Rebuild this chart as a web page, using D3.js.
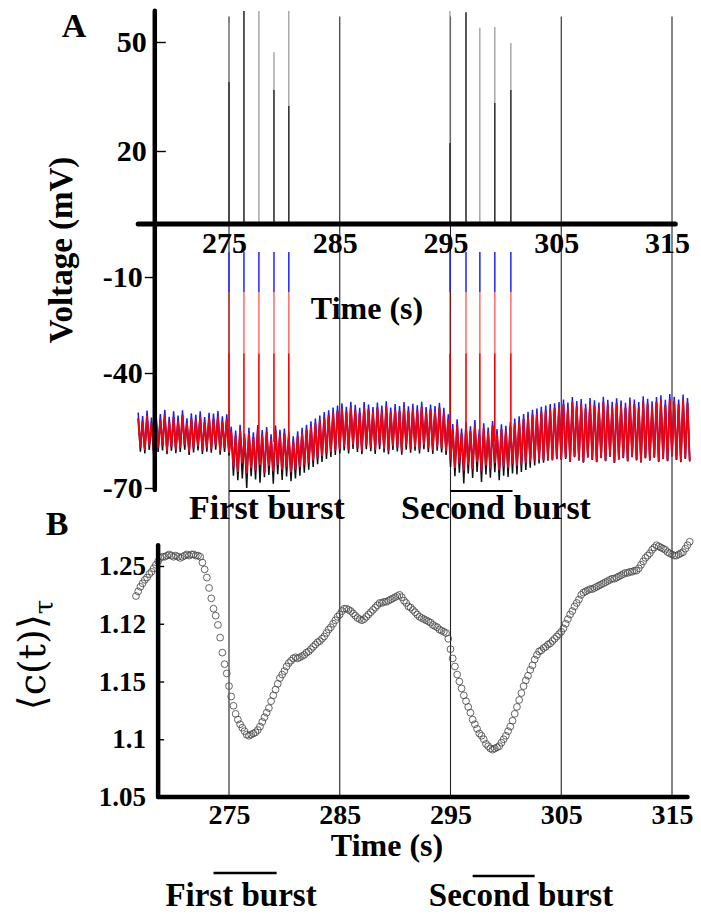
<!DOCTYPE html>
<html><head><meta charset="utf-8">
<script src="https://cdn.jsdelivr.net/npm/d3@7/dist/d3.min.js"></script>
<style>
html,body{margin:0;padding:0;background:#fff;}
svg{display:block;}
text{font-family:"Liberation Serif","Times New Roman",serif;font-weight:bold;fill:#000;}
</style></head><body>
<svg id="chart" width="701" height="915"></svg>
<script>
// ---------- tick values / labels ----------
const timeTicks = [275, 285, 295, 305, 315];
const timeTickLabels = ["275", "285", "295", "305", "315"];
const voltTicksUpper = [50, 20];
const voltTicksLower = [-10, -40, -70];
const voltTickLabels = {"50": "50", "20": "20", "-10": "-10", "-40": "-40", "-70": "-70"};
const corrTicks = [1.05, 1.1, 1.15, 1.2, 1.25];
const corrTickLabels = ["1.05", "1.1", "1.15", "1.12", "1.25"];

// ---------- Panel A: membrane voltage trace (one oscillation cycle every 0.4 s) ----------
const traceStart = 266.8, traceStep = 0.4;
const redHi = [
  -51.8,-52.6,-51.2,-53.0,-51.6,-52.2,-50.9,-52.8,-51.5,-52.4,-51.0,-53.1,-51.9,-52.3,-51.4,-52.9,-51.7,-52.0,-51.3,-52.7,-52.1,
  -55.2,-56.4,-54.8,-57.0,-55.6,-56.8,-54.9,-56.2,-55.4,-57.3,-55.0,-56.1,-55.8,-56.6,
  -57.8,-56.5,-55.6,-54.8,-53.9,-53.2,-52.4,-51.5,-51.0,-50.3,-49.8,
  -49.2,-50.1,-48.8,-49.6,-50.4,-48.9,-49.5,-50.2,-49.0,-49.8,-48.7,-50.3,-49.4,-49.9,-48.9,-50.0,-49.3,-49.7,-48.8,-50.2,-49.5,-49.9,-49.1,-50.4,
  -52.0,-54.6,-53.4,-55.8,-54.1,-55.2,-53.6,-56.0,-54.4,-55.5,-53.8,-55.9,-54.7,-55.1,-54.0,
  -53.2,-52.6,-52.0,-51.4,-50.9,-50.6,-50.1,-49.8,-49.4,-49.2,-48.9,
  -48.2,-49.0,-47.6,-48.6,-48.1,-49.3,-47.8,-48.4,-49.0,-47.5,-48.3,-48.8,-47.9,-48.5,-49.1,-47.7,-48.2,-48.9,-47.4,-48.0,-48.7,-47.6,-47.1,-48.3,-46.8,-47.5,-48.2,-46.9,-47.8
];
const redLo = [
  -59.4,-60.1,-58.9,-60.4,-59.6,-59.0,-60.3,-59.2,-60.0,-59.5,-58.8,-60.5,-59.7,-59.1,-60.2,-59.4,-59.9,-58.9,-60.4,-59.6,-60.8,
  -64.5,-65.8,-63.6,-66.2,-64.8,-65.4,-63.9,-66.0,-64.2,-65.6,-64.0,-65.2,-64.6,-65.9,
  -65.2,-64.6,-64.0,-63.4,-62.8,-62.2,-61.7,-61.0,-60.6,-60.2,-59.9,
  -59.2,-60.0,-58.7,-59.6,-60.3,-58.9,-59.4,-60.1,-58.8,-59.7,-60.2,-59.0,-59.5,-60.4,-58.9,-59.8,-59.3,-60.0,-58.8,-59.6,-60.1,-59.2,-59.7,-60.3,
  -62.6,-64.8,-63.5,-65.4,-63.9,-65.0,-63.2,-65.6,-64.1,-64.9,-63.4,-65.3,-64.4,-64.7,-63.8,
  -64.2,-63.8,-63.5,-63.1,-62.9,-62.6,-62.8,-62.4,-62.6,-62.3,-62.5,
  -62.1,-63.0,-61.8,-62.7,-63.2,-61.9,-62.5,-63.1,-62.0,-62.8,-61.7,-63.3,-62.4,-62.0,-62.9,-61.8,-62.6,-63.2,-62.1,-62.7,-61.9,-63.0,-62.3,-62.8,-61.6,-62.5,-63.1,-62.2,-62.9
];
const blueHi = [
  -50.3,-51.2,-49.8,-51.6,-50.2,-50.7,-49.6,-51.4,-50.0,-51.1,-49.7,-51.8,-50.5,-50.9,-50.0,-51.5,-50.4,-50.6,-49.9,-51.3,-50.8,
  -54.0,-55.0,-53.5,-55.8,-54.3,-55.5,-53.6,-54.9,-54.1,-56.0,-53.7,-54.8,-54.5,-55.3,
  -56.5,-55.2,-54.3,-53.5,-52.6,-51.9,-51.1,-50.2,-49.7,-49.0,-48.5,
  -47.9,-48.8,-47.5,-48.3,-49.1,-47.6,-48.2,-48.9,-47.7,-48.5,-47.4,-49.0,-48.1,-48.6,-47.6,-48.7,-48.0,-48.4,-47.5,-48.9,-48.2,-48.6,-47.8,-49.1,
  -50.8,-53.3,-52.1,-54.5,-52.8,-53.9,-52.3,-54.7,-53.1,-54.2,-52.5,-54.6,-53.4,-53.8,-52.7,
  -51.9,-51.3,-50.7,-50.1,-49.6,-49.3,-48.8,-48.5,-48.1,-47.9,-47.6,
  -46.9,-47.7,-46.3,-47.3,-46.8,-48.0,-46.5,-47.1,-47.7,-46.2,-47.0,-47.5,-46.6,-47.2,-47.8,-46.4,-46.9,-47.6,-46.1,-46.7,-47.4,-46.3,-45.8,-47.0,-45.5,-46.2,-46.9,-45.6,-46.5
];
const blackLo = [
  -60.5,-61.0,-60.1,-61.3,-60.6,-60.2,-61.2,-60.3,-60.9,-60.6,-60.0,-61.4,-60.7,-60.2,-61.1,-60.5,-60.8,-60.0,-61.3,-60.6,-61.6,
  -66.8,-68.0,-67.5,-70.0,-66.9,-67.8,-68.6,-67.2,-66.6,-68.9,-66.4,-67.9,-67.0,-68.2,
  -67.5,-66.8,-66.0,-65.2,-64.5,-63.8,-63.2,-62.4,-61.9,-61.4,-61.0,
  -60.2,-61.0,-59.8,-60.6,-61.2,-59.9,-60.4,-61.1,-59.9,-60.7,-61.2,-60.1,-60.5,-61.3,-60.0,-60.8,-60.3,-61.0,-59.9,-60.6,-61.1,-60.3,-60.7,-61.4,
  -64.5,-66.9,-66.0,-68.8,-66.2,-67.4,-65.8,-68.4,-66.5,-67.3,-65.9,-68.0,-66.8,-67.1,-66.2,
  -66.5,-65.8,-65.3,-64.7,-64.1,-63.6,-63.4,-62.9,-62.8,-62.5,-62.6,
  -62.4,-63.2,-62.0,-62.9,-63.4,-62.1,-62.7,-63.3,-62.2,-63.0,-61.9,-63.5,-62.6,-62.2,-63.1,-62.0,-62.8,-63.4,-62.3,-62.9,-62.1,-63.2,-62.5,-63.0,-61.8,-62.7,-63.3,-62.4,-63.1
];

// action potentials
const spikeTimes   = [275.0, 276.35, 277.7, 279.06, 280.4, 294.95, 296.4, 297.65, 299.0, 300.45];
const spikeTopAll  = [55.2, 58.5, 58.5, 47.2, 58.5, 58.5, 58.2, 53.9, 54.1, 49.7];
const spikeTopDark = [39.0, 58.5, 0, 36.8, 32.4, 22.2, 58.2, 0, 33.2, 36.8];
const spikeColorTop = -5.3, spikeBlueEnd = -14.7, spikePaleEnd = -33.8, spikeBase = -58;

const burstsA = [[275.0, 280.5], [295.0, 300.6]];
const burstsB = [[273.6, 279.3], [297.0, 302.6]];
const burstNames = ["First burst", "Second burst"];

// ---------- Panel B: <c(t)>_tau, one sample every 0.2 s ----------
const corrStart = 266.6, corrStep = 0.2;
const corrValues = [
  1.224,1.228,1.232,1.235,1.238,1.240,1.243,1.245,1.248,1.251,
  1.254,1.257,1.258,1.258,1.259,1.260,1.259,1.258,1.259,1.258,
  1.257,1.258,1.259,1.260,1.259,1.260,1.260,1.259,1.259,1.258,
  1.253,1.247,1.240,1.231,1.222,1.213,1.207,1.199,1.188,1.175,
  1.165,1.157,1.146,1.137,1.129,1.122,1.117,1.113,1.110,1.107,
  1.104,1.103,1.104,1.105,1.106,1.108,1.111,1.115,1.119,1.123,
  1.127,1.133,1.138,1.143,1.148,1.153,1.156,1.159,1.163,1.166,
  1.168,1.170,1.171,1.170,1.171,1.172,1.173,1.175,1.176,1.178,
  1.180,1.182,1.184,1.185,1.187,1.189,1.192,1.195,1.197,1.200,
  1.203,1.206,1.208,1.211,1.213,1.213,1.212,1.211,1.209,1.207,
  1.205,1.204,1.203,1.204,1.206,1.208,1.210,1.212,1.214,1.216,
  1.218,1.218,1.219,1.219,1.220,1.221,1.222,1.223,1.224,1.225,
  1.223,1.220,1.218,1.215,1.214,1.212,1.210,1.208,1.206,1.205,
  1.204,1.203,1.202,1.201,1.199,1.198,1.197,1.195,1.194,1.193,
  1.192,1.187,1.178,1.170,1.163,1.156,1.150,1.144,1.138,1.133,
  1.128,1.123,1.117,1.113,1.109,1.105,1.103,1.100,1.096,1.094,
  1.092,1.091,1.092,1.093,1.094,1.097,1.100,1.103,1.107,1.111,
  1.116,1.122,1.128,1.134,1.140,1.146,1.151,1.155,1.160,1.164,
  1.169,1.173,1.176,1.177,1.179,1.180,1.182,1.183,1.185,1.187,
  1.189,1.191,1.193,1.196,1.200,1.204,1.208,1.211,1.215,1.218,
  1.221,1.225,1.227,1.228,1.229,1.230,1.230,1.231,1.232,1.233,
  1.234,1.235,1.236,1.237,1.238,1.239,1.239,1.240,1.241,1.242,
  1.243,1.244,1.244,1.245,1.245,1.246,1.246,1.248,1.251,1.254,
  1.257,1.259,1.261,1.264,1.266,1.268,1.267,1.266,1.265,1.264,
  1.262,1.261,1.260,1.259,1.259,1.260,1.261,1.262,1.265,1.268,
  1.271
];

// ---------- scales ----------
const x  = d3.scaleLinear().domain([275, 315]).range([229, 672]);
const yA = d3.scaleLinear().domain([-70, -40, -10, 0, 20, 50]).range([488, 373, 277, 224, 151, 42]);
const yB = d3.scaleLinear().domain([1.05, 1.25]).range([797, 566]);

const svg = d3.select("#chart");

// ---------- vertical reference lines (span both panels) ----------
svg.append("g").selectAll("line").data(timeTicks).join("line")
  .attr("x1", d => x(d)).attr("x2", d => x(d))
  .attr("y1", yA(57)).attr("y2", yB(1.05))
  .attr("stroke", "#222").attr("stroke-width", 1.1);

// ---------- Panel A trace ----------
const trace = redHi.map((h, i) => ({t: traceStart + i * traceStep, hi: h, lo: redLo[i], bhi: blueHi[i], klo: blackLo[i]}));
const lineA = d3.line().x(p => x(p[0])).y(p => yA(p[1]));
const half = traceStep / 2;
const gT = svg.append("g");
gT.append("path").attr("d", lineA(trace.flatMap(d => [[d.t, d.hi], [d.t + half, d.klo]])))
  .attr("fill", "none").attr("stroke", "#111").attr("stroke-width", 1.5);
gT.append("path").attr("d", lineA(trace.flatMap(d => [[d.t, d.bhi], [d.t + half, d.lo]])))
  .attr("fill", "none").attr("stroke", "#1a1aff").attr("stroke-width", 1.5);
gT.append("path").attr("d", lineA(trace.flatMap(d => [[d.t, d.hi], [d.t + half, d.lo]])))
  .attr("fill", "none").attr("stroke", "#ff0000").attr("stroke-width", 1.9).attr("stroke-opacity", 0.92);

// spikes in the coloured (lower) view
const gS = svg.append("g").attr("stroke-width", 1.6);
gS.selectAll(".sb").data(spikeTimes).join("line").attr("class", "sb")
  .attr("x1", d => x(d)).attr("x2", d => x(d))
  .attr("y1", yA(spikeColorTop)).attr("y2", yA(spikeBlueEnd)).attr("stroke", "#3030ff");
gS.selectAll(".sp").data(spikeTimes).join("line").attr("class", "sp")
  .attr("x1", d => x(d)).attr("x2", d => x(d))
  .attr("y1", yA(spikeBlueEnd)).attr("y2", yA(spikePaleEnd)).attr("stroke", "#ff0000").attr("stroke-opacity", 0.55);
gS.selectAll(".sr").data(spikeTimes).join("line").attr("class", "sr")
  .attr("x1", d => x(d)).attr("x2", d => x(d))
  .attr("y1", yA(spikePaleEnd)).attr("y2", yA(spikeBase)).attr("stroke", "#ff0000");

// spikes in the upper (black) view
const gU = svg.append("g").attr("stroke-width", 1.3);
gU.selectAll(".ua").data(spikeTimes).join("line").attr("class", "ua")
  .attr("x1", d => x(d)).attr("x2", d => x(d))
  .attr("y1", yA(0)).attr("y2", (d, i) => yA(spikeTopAll[i])).attr("stroke", "#9a9a9a");
gU.selectAll(".ud").data(spikeTimes.filter((d, i) => spikeTopDark[i] > 0)).join("line").attr("class", "ud")
  .attr("x1", d => x(d)).attr("x2", d => x(d))
  .attr("y1", yA(0)).attr("y2", d => yA(spikeTopDark[spikeTimes.indexOf(d)])).attr("stroke", "#222");

// ---------- Panel A axes ----------
const axA = svg.append("g");
axA.append("line").attr("x1", x(268.3)).attr("x2", x(268.3)).attr("y1", yA(58.6)).attr("y2", yA(-70.5))
  .attr("stroke", "#000").attr("stroke-width", 4.5).attr("stroke-linecap", "round");
axA.append("line").attr("x1", x(266.8)).attr("x2", x(315.3)).attr("y1", yA(0)).attr("y2", yA(0))
  .attr("stroke", "#000").attr("stroke-width", 5).attr("stroke-linecap", "round");

function styleAxis(g, size) {
  g.attr("font-family", null).attr("font-size", null);
  g.select(".domain").remove();
  g.selectAll(".tick line").attr("stroke", "#000").attr("stroke-width", 1.4);
  g.selectAll(".tick text").style("font-size", size + "px");
}
const vFmt = d => voltTickLabels[String(d)];
svg.append("g").attr("transform", `translate(${x(268.3)},0)`)
  .call(d3.axisLeft(yA).tickValues(voltTicksUpper).tickFormat(vFmt).tickSizeInner(-11).tickSizeOuter(0).tickPadding(8))
  .call(g => styleAxis(g, 30));
svg.append("g").attr("transform", `translate(${x(268.3)},0)`)
  .call(d3.axisLeft(yA).tickValues(voltTicksLower).tickFormat(vFmt).tickSizeInner(10).tickSizeOuter(0).tickPadding(2))
  .call(g => styleAxis(g, 30));
svg.append("g").attr("transform", `translate(0,${yA(0)})`)
  .call(d3.axisBottom(x).tickValues(timeTicks).tickFormat((d, i) => timeTickLabels[i]).tickSize(0).tickPadding(8))
  .call(g => styleAxis(g, 30))
  .call(g => g.selectAll(".tick text").attr("dx", -5));

// ---------- Panel B: circles ----------
const corr = corrValues.map((v, i) => ({t: corrStart + i * corrStep, v}));
svg.append("g").selectAll("circle").data(corr).join("circle")
  .attr("cx", d => x(d.t)).attr("cy", d => yB(d.v)).attr("r", 3.4)
  .attr("fill", "none").attr("stroke", "#4a4a4a").attr("stroke-width", 1).attr("stroke-opacity", 0.85);

// ---------- Panel B axes ----------
const axB = svg.append("g");
axB.append("line").attr("x1", x(268.6)).attr("x2", x(268.6)).attr("y1", yB(1.268)).attr("y2", yB(1.05))
  .attr("stroke", "#000").attr("stroke-width", 4.5).attr("stroke-linecap", "round");
axB.append("line").attr("x1", x(268.6)).attr("x2", x(316.4)).attr("y1", yB(1.05)).attr("y2", yB(1.05))
  .attr("stroke", "#000").attr("stroke-width", 4.5).attr("stroke-linecap", "round");
svg.append("g").attr("transform", `translate(${x(268.6)},0)`)
  .call(d3.axisLeft(yB).tickValues(corrTicks).tickFormat((d, i) => corrTickLabels[i]).tickSizeInner(-6).tickSizeOuter(0).tickPadding(12))
  .call(g => styleAxis(g, 27));
svg.append("g").attr("transform", `translate(0,${yB(1.05)})`)
  .call(d3.axisBottom(x).tickValues(timeTicks).tickFormat((d, i) => timeTickLabels[i]).tickSize(0).tickPadding(7))
  .call(g => styleAxis(g, 28));

// ---------- burst bars ----------
svg.append("g").selectAll("line").data(burstsA).join("line")
  .attr("x1", d => x(d[0])).attr("x2", d => x(d[1])).attr("y1", 491).attr("y2", 491)
  .attr("stroke", "#000").attr("stroke-width", 2.2);
svg.append("g").selectAll("line").data(burstsB).join("line")
  .attr("x1", d => x(d[0])).attr("x2", d => x(d[1])).attr("y1", (d, i) => 873 + 3 * i).attr("y2", (d, i) => 873 + 3 * i)
  .attr("stroke", "#000").attr("stroke-width", 2.5);

// ---------- text ----------
function label(txt, tx, ty, size, opts = {}) {
  const t = svg.append("text").attr("x", tx).attr("y", ty).attr("text-anchor", opts.anchor || "middle")
    .style("font-size", size + "px").text(txt);
  if (opts.rotate) t.attr("transform", `rotate(-90,${tx},${ty})`);
  return t;
}
label("A", 74, 37, 34);
label("Voltage (mV)", 72, 250, 33, {rotate: true});
label("Time (s)", 367, 319, 32);
label(burstNames[0], 267, 519, 34);
label(burstNames[1], 496, 519, 34);
label("B", 57, 535, 34);
label("Time (s)", 387, 856, 32);
label(burstNames[0], 241, 906, 33);
label(burstNames[1], 521, 906, 33);

const cl = svg.append("text").attr("x", 45).attr("y", 655).attr("text-anchor", "middle")
  .attr("transform", "rotate(-90,45,655)")
  .style("font-weight", "normal").style("font-size", "38px")
  .style("font-family", "'DejaVu Serif','Liberation Serif',serif");
cl.append("tspan").text("⟨c(t)⟩");
cl.append("tspan").attr("dy", 8).style("font-size", "26px").text("τ");
</script>
</body></html>
